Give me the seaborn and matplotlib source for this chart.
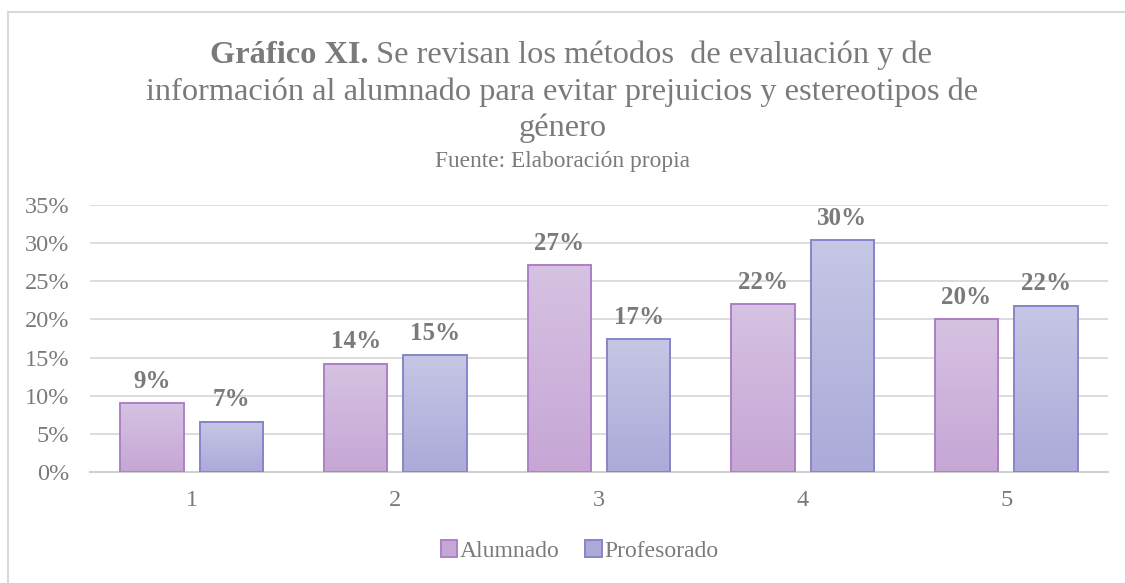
import numpy as np
import pandas as pd
import matplotlib
matplotlib.use("Agg")
import matplotlib.pyplot as plt
import seaborn as sns
from matplotlib.patches import Rectangle, Patch
from matplotlib.colors import LinearSegmentedColormap

categories = ["1", "2", "3", "4", "5"]
alumnado = [9.0, 14.2, 27.1, 22.0, 20.0]
profesorado = [6.6, 15.3, 17.4, 30.4, 21.8]
series_names = ["Alumnado", "Profesorado"]
yticks = [0, 5, 10, 15, 20, 25, 30, 35]

df = pd.DataFrame({
    "cat": categories * 2,
    "val": alumnado + profesorado,
    "serie": [series_names[0]] * 5 + [series_names[1]] * 5,
})

sns.set_style("white")
plt.rcParams['font.family'] = ['Liberation Serif', 'DejaVu Serif']

TXT = "#7a7a7a"
GRAD = {
    "Alumnado": ("#d6c2e2", "#c6a6d5", "#ad80c6"),
    "Profesorado": ("#c6c6e5", "#abaad9", "#8884c8"),
}
W, H = 1125, 583

fig = plt.figure(figsize=(11.25, 5.83), dpi=100)
ax = fig.add_axes([90 / W, (H - 472) / H, (1108 - 90) / W, 267 / H])

sns.barplot(data=df, x="cat", y="val", hue="serie", order=categories,
            hue_order=series_names, width=0.78, gap=0.2, ax=ax,
            palette=[GRAD[s][1] for s in series_names], legend=False, zorder=2)

ax.set_ylim(0, 35)
xlim = ax.get_xlim()

patches = list(ax.patches)
for i, p in enumerate(patches):
    serie = series_names[0] if i < len(categories) else series_names[1]
    top, bot, edge = GRAD[serie]
    x0, y0 = p.get_x(), p.get_y()
    w, h = p.get_width(), p.get_height()
    cmap = LinearSegmentedColormap.from_list("g", [bot, top])
    grad = np.linspace(0, 1, 100).reshape(-1, 1)
    ax.imshow(grad, extent=[x0, x0 + w, y0, y0 + h], origin="lower",
              cmap=cmap, aspect="auto", zorder=2, interpolation="bilinear")
    p.set_facecolor("none")
    p.set_edgecolor(edge)
    p.set_linewidth(1.4)
    p.set_zorder(3)
    ax.text(x0 + w / 2, y0 + h + 1.35, f"{h:.0f}%", ha="center", va="bottom",
            fontsize=18, fontweight="bold", color=TXT, zorder=4)

ax.set_xlim(xlim)
ax.set_ylim(0, 35)
ax.set_yticks(yticks)
ax.set_yticklabels([f"{t}%" for t in yticks])
ax.grid(axis="y", color="#d9d9d9", linewidth=1.3, zorder=0)
ax.set_axisbelow(True)
for s in ["top", "right", "left"]:
    ax.spines[s].set_visible(False)
ax.spines["bottom"].set_color("#d0d0d0")
ax.spines["bottom"].set_linewidth(1.5)
ax.tick_params(axis="both", length=0, labelsize=17.5, labelcolor=TXT)
ax.tick_params(axis="y", pad=15)
ax.tick_params(axis="x", pad=13)
ax.set_xlabel("")
ax.set_ylabel("")

# title (line 1 mixes bold and regular text)
TS = 23.3
renderer = fig.canvas.get_renderer()
y1 = 1 - 63 / H
tb = fig.text(0, y1, "Gráfico XI.", fontsize=TS, fontweight="bold",
              color=TXT, ha="left", va="baseline")
tn = fig.text(0, y1, " Se revisan los métodos  de evaluación y de",
              fontsize=TS, color=TXT, ha="left", va="baseline")
wb = tb.get_window_extent(renderer).width
wn = tn.get_window_extent(renderer).width
cx = 571
start = cx - (wb + wn) / 2
tb.set_x(start / W)
tn.set_x((start + wb) / W)

fig.text(0.5, 1 - 100 / H,
         "información al alumnado para evitar prejuicios y estereotipos de",
         ha="center", va="baseline", fontsize=TS, color=TXT)
fig.text(0.5, 1 - 136 / H, "género", ha="center", va="baseline",
         fontsize=TS, color=TXT)
fig.text(0.5, 1 - 167 / H, "Fuente: Elaboración propia", ha="center",
         va="baseline", fontsize=16.8, color=TXT)

# legend
handles = [Patch(facecolor=GRAD[s][1], edgecolor=GRAD[s][2], linewidth=1.4, label=s)
           for s in series_names]
fig.legend(handles=handles, loc="center", bbox_to_anchor=(0.515, 1 - 551 / H),
           ncol=2, frameon=False, fontsize=17, labelcolor=TXT,
           handlelength=0.7, handleheight=0.7, handletextpad=0.1,
           columnspacing=1.1)

# outer frame
fig.add_artist(Rectangle((8 / W, -0.1), 1.2, 1 - 12 / H + 0.1,
                         transform=fig.transFigure, fill=False,
                         edgecolor="#d9d9d9", linewidth=1.5))

fig.savefig("out.png", dpi=100)
